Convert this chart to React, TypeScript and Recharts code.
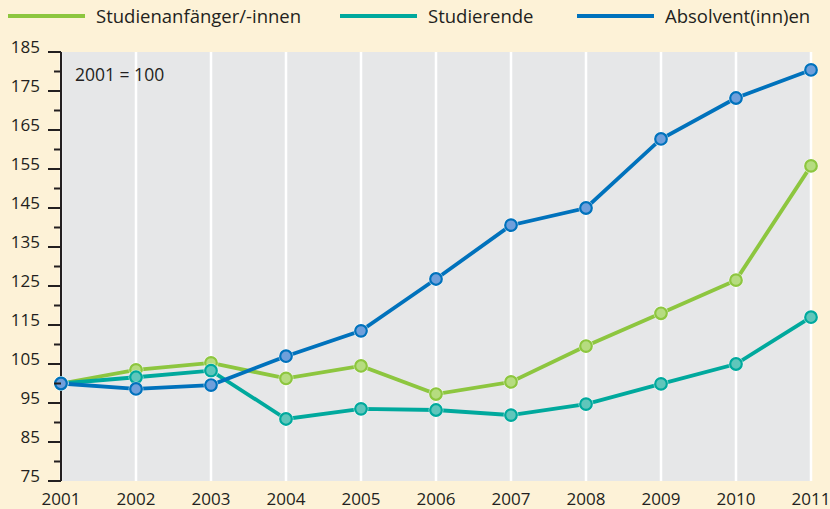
import { LineChart, Line, XAxis, YAxis, CartesianGrid } from "recharts"

const years = ["2001", "2002", "2003", "2004", "2005", "2006", "2007", "2008", "2009", "2010", "2011"]
const anfaenger = [100, 103.5, 105.3, 101.3, 104.5, 97.3, 100.4, 109.6, 118, 126.5, 155.8]
const studierende = [100, 101.6, 103.3, 90.9, 93.5, 93.2, 91.9, 94.7, 99.9, 105, 117]
const absolventen = [100, 98.6, 99.6, 107, 113.5, 126.8, 140.6, 145, 162.7, 173.2, 180.4]
const yTicks = [75, 80, 85, 90, 95, 100, 105, 110, 115, 120, 125, 130, 135, 140, 145, 150, 155, 160, 165, 170, 175, 180, 185]

const data = years.map((year, i) => ({
  year,
  anfaenger: anfaenger[i],
  studierende: studierende[i],
  absolventen: absolventen[i],
}))

const series = [
  { key: "anfaenger", name: "Studienanfänger/-innen", color: "#8dc63f", light: "#b6dc80" },
  { key: "studierende", name: "Studierende", color: "#00a99d", light: "#5fc6bb" },
  { key: "absolventen", name: "Absolvent(inn)en", color: "#0072bc", light: "#6f9fdb" },
]

const font = "'Open Sans', 'Noto Sans', sans-serif"
const ink = "#231f20"

const makeDot = (color: string, light: string) => (props: any) => {
  const { cx, cy, index } = props
  return (
    <g key={index}>
      <circle cx={cx} cy={cy} r={7.5} fill="#ffffff" fillOpacity={0.6} />
      <circle cx={cx} cy={cy} r={5.8} fill={light} stroke={color} strokeWidth={2.2} />
    </g>
  )
}

const YTick = (props: any) => {
  const { x, y, payload } = props
  const major = (payload.value - 75) % 10 === 0
  const axisX = x + 21
  return (
    <g>
      <line x1={axisX - (major ? 13 : 7)} x2={axisX} y1={y} y2={y} stroke={ink} strokeWidth={2} />
      {major && (
        <text x={x} y={y - 5} dy="0.355em" textAnchor="end" fill={ink} fontSize={17} fontFamily={font}>
          {payload.value}
        </text>
      )}
    </g>
  )
}

// legend positions along the top strip
const legendPos = [
  { lx: 8, tx: 96 },
  { lx: 340, tx: 428 },
  { lx: 577, tx: 665 },
]

export default function App() {
  return (
    <div style={{ position: "absolute", left: 0, top: 0, width: 830, height: 509, background: "#fdf2d7" }}>
      <LineChart width={830} height={509} data={data} margin={{ top: 52, right: 19, left: 0, bottom: 0 }}>
        <CartesianGrid fill="#e6e7e8" horizontal={false} stroke="#ffffff" strokeWidth={2.5} />
        <XAxis
          dataKey="year"
          axisLine={false}
          tickLine={false}
          height={28}
          tick={{ fill: ink, fontSize: 17, fontFamily: font, dy: 4 }}
          interval={0}
        />
        <YAxis
          domain={[75, 185]}
          ticks={yTicks}
          interval={0}
          width={61}
          tickSize={13}
          tickMargin={8}
          tickLine={false}
          axisLine={{ stroke: ink, strokeWidth: 2 }}
          tick={<YTick />}
        />
        {series.map((s) => (
          <Line
            key={s.key}
            dataKey={s.key}
            name={s.name}
            stroke={s.color}
            strokeWidth={3.8}
            dot={makeDot(s.color, s.light)}
            activeDot={false}
            isAnimationActive={false}
          />
        ))}
        <g>
          {series.map((s, i) => (
            <g key={s.key}>
              <line x1={legendPos[i].lx} x2={legendPos[i].lx + 77} y1={16} y2={16} stroke={s.color} strokeWidth={4} />
              <text x={legendPos[i].tx} y={16} dy="0.355em" fill={ink} fontSize={18.5} fontFamily={font}>
                {s.name}
              </text>
            </g>
          ))}
        </g>
        <text x={75} y={75} dy="0.355em" fill={ink} fontSize={17.5} fontFamily={font}>
          2001 = 100
        </text>
      </LineChart>
    </div>
  )
}
